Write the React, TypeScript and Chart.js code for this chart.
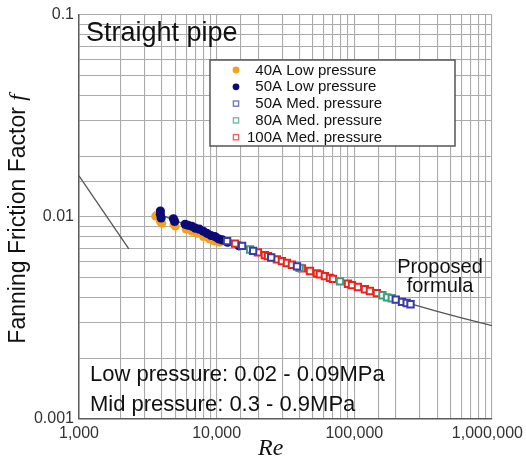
import React, { useEffect, useRef } from 'react';
import { Chart, registerables } from 'chart.js';

Chart.register(...registerables);

// ---- tick labels ----
const xTickValues = [1000, 10000, 100000, 1000000];
const xTickLabels = ['1,000', '10,000', '100,000', '1,000,000'];
const yTickValues = [0.001, 0.01, 0.1];
const yTickLabels = ['0.001', '0.01', '0.1'];

// ---- series names ----
const seriesNames = [
  '40A Low pressure',
  '50A Low pressure',
  '50A Med. pressure',
  '80A Med. pressure',
  '100A Med. pressure',
];

// ---- 40A low pressure ----
const re40ALow = [3600, 3900, 4000, 4900, 5000, 6000, 6600, 7200, 8000, 8800, 9600, 10500];
const f40ALow = [0.0101, 0.0095, 0.0093, 0.0092, 0.009, 0.0087, 0.0085, 0.0083, 0.008, 0.0078, 0.0076, 0.0075];

// ---- 50A low pressure ----
const re50ALow = [3900, 3900, 3950, 4850, 4950, 5900, 6200, 6600, 7000, 7500, 8000, 8500, 9100, 9700, 10300, 11000, 12000, 14500];
const f50ALow = [0.0107, 0.0103, 0.0099, 0.0098, 0.0095, 0.0092, 0.0091, 0.009, 0.0088, 0.0087, 0.0085, 0.0083, 0.0081, 0.008, 0.0078, 0.0077, 0.0075, 0.0072];

// ---- 50A medium pressure ----
const re50AMed = [11900, 15300, 18400, 24900, 38300, 200000, 222000, 240000, 256000];
const f50AMed = [0.0076, 0.0072, 0.0068, 0.0063, 0.0057, 0.0039, 0.0038, 0.00375, 0.0037];

// ---- 80A medium pressure ----
const re80AMed = [17500, 40000, 78600, 160000, 173000, 187000];
const f80AMed = [0.0069, 0.0056, 0.0048, 0.0041, 0.004, 0.00396];

// ---- 100A medium pressure ----
const re100AMed = [13600, 19950, 22400, 23600, 27400, 29800, 32400, 35200, 41600, 47600, 53500, 56200, 61100, 66500, 69900, 89900, 96100, 106200, 119400, 129800, 145900];
const f100AMed = [0.00738, 0.00668, 0.00648, 0.0064, 0.00617, 0.00605, 0.00592, 0.0058, 0.00557, 0.0054, 0.00526, 0.0052, 0.0051, 0.005, 0.00494, 0.00467, 0.0046, 0.0045, 0.00439, 0.0043, 0.0042];

// ---- laminar line ----
const laminarRe = [1000, 2300];
const laminarF = [0.016, 0.00696];

// ---- proposed formula line ----
const proposedRe = [3500, 10000, 30000, 100000, 250000, 400000, 600000, 1000000];
const proposedF = [0.01058, 0.00795, 0.006015, 0.00454, 0.00374, 0.003415, 0.00317, 0.0029];

const toPts = (xs: number[], ys: number[]) => xs.map((x, i) => ({ x, y: ys[i] }));

const SANS = '"Liberation Sans", Arial, Helvetica, sans-serif';
const SERIF = '"Liberation Serif", "Times New Roman", serif';

const COLORS = ['#f6a11c', '#0b0b78', '#3a3aa8', '#3e9c7c', '#e6261e'];

const overlayPlugin = {
  id: 'overlayText',
  beforeDraw(chart: any) {
    // keep the last x tick label inside the canvas (right-aligned, as in the reference)
    try {
      const sx = chart.scales.x;
      const items = sx.getLabelItems();
      if (items && items.length) {
        const last = items[items.length - 1];
        if (last.label === xTickLabels[xTickLabels.length - 1] && !last._shifted) {
          last.options.textAlign = 'right';
          last.options.translation[0] = chart.width - 3;
          last._shifted = true;
        }
      }
    } catch (e) {
      /* ignore */
    }
  },
  afterDraw(chart: any) {
    const ctx = chart.ctx as CanvasRenderingContext2D;
    const ca = chart.chartArea;
    ctx.save();

    // Title inside plot
    ctx.fillStyle = '#111';
    ctx.textAlign = 'left';
    ctx.textBaseline = 'alphabetic';
    ctx.font = `27px ${SANS}`;
    ctx.fillText('Straight pipe', ca.left + 7, ca.top + 26);

    // Legend box
    const lx = ca.left + 131;
    const ly = ca.top + 45;
    const lw = 245;
    const lh = 86;
    ctx.fillStyle = '#ffffff';
    ctx.fillRect(lx, ly, lw, lh);
    ctx.strokeStyle = '#555';
    ctx.lineWidth = 1.5;
    ctx.strokeRect(lx, ly, lw, lh);

    ctx.font = `15px ${SANS}`;
    const prefixes = seriesNames.map((n) => n.split(' ')[0]);
    const prefW = prefixes.map((p) => ctx.measureText(p).width);
    const maxPref = Math.max(...prefW);
    seriesNames.forEach((name, i) => {
      const cy = ly + 10 + i * 16.8;
      const mx = lx + 26;
      const c = COLORS[i];
      if (i < 2) {
        ctx.fillStyle = c;
        ctx.beginPath();
        ctx.arc(mx, cy, 3.4, 0, Math.PI * 2);
        ctx.fill();
      } else {
        ctx.globalAlpha = 0.7;
        ctx.strokeStyle = c;
        ctx.lineWidth = 1.4;
        ctx.strokeRect(mx - 2.6, cy - 2.6, 5.2, 5.2);
        ctx.globalAlpha = 1;
      }
      ctx.fillStyle = '#111';
      ctx.textBaseline = 'middle';
      ctx.fillText(name, lx + 37 + (maxPref - prefW[i]), cy + 0.5);
    });

    // pressure notes
    ctx.textBaseline = 'alphabetic';
    ctx.textAlign = 'left';
    ctx.fillStyle = '#111';
    ctx.font = `22px ${SANS}`;
    ctx.fillText('Low pressure: 0.02 - 0.09MPa', ca.left + 11, 381);
    ctx.fillText('Mid pressure: 0.3 - 0.9MPa', ca.left + 11, 411);

    // proposed formula label
    ctx.font = `20px ${SANS}`;
    ctx.textAlign = 'center';
    ctx.fillText('Proposed', 440, 273);
    ctx.fillText('formula', 440, 292);

    // x axis title
    ctx.textAlign = 'left';
    ctx.font = `italic 24px ${SERIF}`;
    ctx.fillText('Re', 258, 455);

    // y axis title (rotated)
    ctx.save();
    ctx.translate(25, 219);
    ctx.rotate(-Math.PI / 2);
    ctx.font = `23px ${SANS}`;
    const t1 = 'Fanning Friction Factor ';
    const w1 = ctx.measureText(t1).width;
    ctx.font = `italic 23px ${SERIF}`;
    const w2 = ctx.measureText('f').width;
    const start = -(w1 + w2) / 2;
    ctx.textAlign = 'left';
    ctx.font = `23px ${SANS}`;
    ctx.fillText(t1, start, 0);
    ctx.font = `italic 23px ${SERIF}`;
    ctx.fillText('f', start + w1, 0);
    ctx.restore();

    ctx.restore();
  },
};

const matchTick = (v: number, vals: number[], labels: string[]) => {
  const i = vals.findIndex((t) => Math.abs(Math.log10(t) - Math.log10(v)) < 1e-6);
  return i >= 0 ? labels[i] : '';
};

export default function App() {
  const ref = useRef<HTMLCanvasElement | null>(null);

  useEffect(() => {
    document.body.style.margin = '0';
    document.body.style.overflow = 'hidden';
    if (!ref.current) return;

    const square = (i: number, data: { x: number; y: number }[], order: number) => ({
      label: seriesNames[i],
      data,
      pointStyle: 'rect',
      pointRadius: 4.5,
      backgroundColor: '#ffffff',
      borderColor: COLORS[i],
      borderWidth: 2,
      showLine: false,
      order,
    });

    const chart = new Chart(ref.current, {
      type: 'scatter',
      data: {
        datasets: [
          {
            label: seriesNames[1],
            data: toPts(re50ALow, f50ALow),
            pointStyle: 'circle',
            pointRadius: 4.6,
            backgroundColor: COLORS[1],
            borderColor: COLORS[1],
            borderWidth: 0,
            order: 3,
          } as any,
          {
            label: seriesNames[0],
            data: toPts(re40ALow, f40ALow),
            pointStyle: 'circle',
            pointRadius: 4.4,
            backgroundColor: COLORS[0],
            borderColor: COLORS[0],
            borderWidth: 0,
            order: 4,
          } as any,
          square(2, toPts(re50AMed, f50AMed), 0) as any,
          square(3, toPts(re80AMed, f80AMed), 1) as any,
          square(4, toPts(re100AMed, f100AMed), 2) as any,
          {
            label: 'Laminar',
            data: toPts(laminarRe, laminarF),
            showLine: true,
            pointRadius: 0,
            borderColor: '#555',
            borderWidth: 1.3,
            order: 10,
          } as any,
          {
            label: 'Proposed formula',
            data: toPts(proposedRe, proposedF),
            showLine: true,
            pointRadius: 0,
            borderColor: '#555',
            borderWidth: 1.3,
            order: 11,
          } as any,
        ],
      },
      options: {
        responsive: false,
        animation: false,
        devicePixelRatio: 1,
        events: [],
        layout: { padding: { left: 0, right: 34, top: 15, bottom: 0 } },
        plugins: {
          legend: { display: false },
          tooltip: { enabled: false },
          title: { display: false },
        },
        scales: {
          x: {
            type: 'logarithmic',
            min: 1000,
            max: 1000000,
            grid: { color: '#ababab', lineWidth: 1.1, drawTicks: false },
            border: { color: '#5a5a5a', width: 1.5 },
            ticks: {
              autoSkip: false,
              maxRotation: 0,
              minRotation: 0,
              padding: 5,
              color: '#333',
              font: { family: SANS, size: 16 },
              callback: (v: any) => matchTick(Number(v), xTickValues, xTickLabels),
            },
            afterFit: (s: any) => {
              s.height = 47;
              s.paddingLeft = 0;
              s.paddingRight = 0;
            },
          },
          y: {
            type: 'logarithmic',
            min: 0.001,
            max: 0.1,
            grid: { color: '#ababab', lineWidth: 1.1, drawTicks: false },
            border: { color: '#5a5a5a', width: 1.5 },
            ticks: {
              autoSkip: false,
              padding: 5,
              color: '#333',
              font: { family: SANS, size: 16 },
              callback: (v: any) => matchTick(Number(v), yTickValues, yTickLabels),
            },
            afterFit: (s: any) => {
              s.width = 79;
              s.paddingTop = 0;
              s.paddingBottom = 0;
            },
          },
        },
      } as any,
      plugins: [overlayPlugin],
    });

    return () => chart.destroy();
  }, []);

  return (
    <div style={{ width: 526, height: 466, background: '#fff' }}>
      <canvas ref={ref} width={526} height={466} style={{ display: 'block' }} />
    </div>
  );
}
